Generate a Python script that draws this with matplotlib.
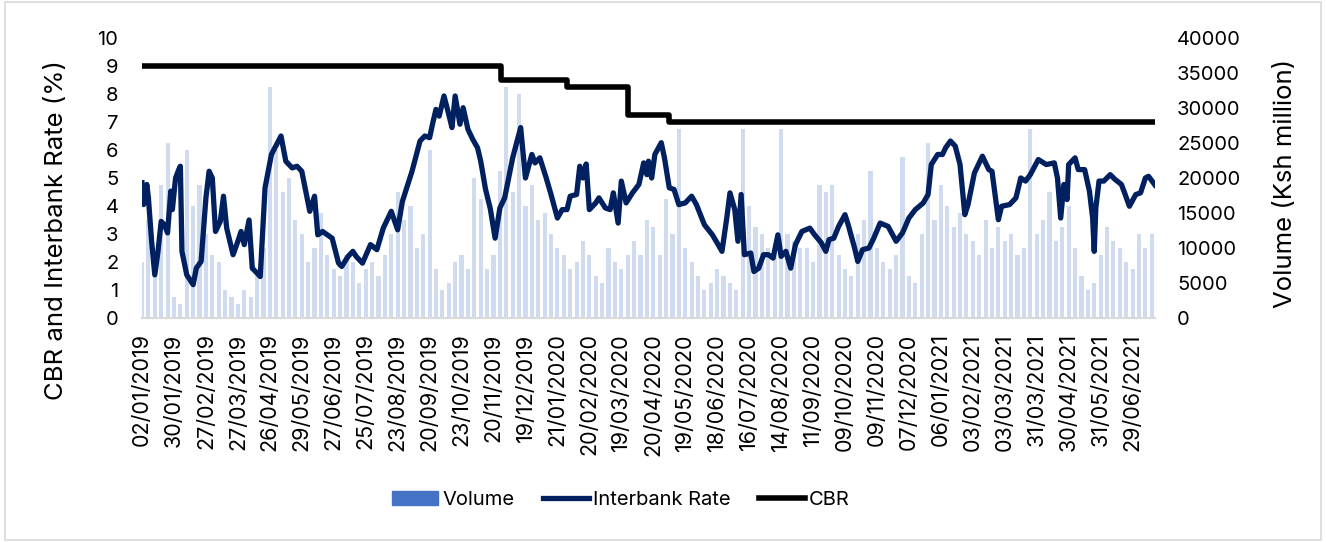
import matplotlib.pyplot as plt
import numpy as np
from matplotlib.patches import Patch, Rectangle
from matplotlib.lines import Line2D

plt.rcParams['font.family'] = ['Inter', 'DejaVu Sans']

# category labels, one every 20 trading days
date_labels = [
    "02/01/2019", "30/01/2019", "27/02/2019", "27/03/2019", "26/04/2019", "29/05/2019",
    "27/06/2019", "25/07/2019", "23/08/2019", "20/09/2019", "23/10/2019", "20/11/2019",
    "19/12/2019", "21/01/2020", "20/02/2020", "19/03/2020", "20/04/2020", "19/05/2020",
    "18/06/2020", "16/07/2020", "14/08/2020", "11/09/2020", "09/10/2020", "09/11/2020",
    "07/12/2020", "06/01/2021", "03/02/2021", "03/03/2021", "31/03/2021", "30/04/2021",
    "31/05/2021", "29/06/2021"
]
label_step = 20

# interbank rate (%) read at trading-day index
ib_day = [0, 1, 3, 4, 6, 8, 10, 12, 14, 16, 18, 19, 21, 23, 24, 25, 28, 32, 34, 37,
          40, 42, 44, 46, 49, 51, 53, 57, 60, 62, 64, 67, 69, 74, 77, 81, 87, 90, 94, 97,
          100, 105, 108, 110, 113, 119, 123, 125, 129, 132, 134, 138, 143, 147, 151, 156, 160, 163, 169, 174,
          177, 180, 182, 184, 186, 189, 192, 194, 196, 199, 201, 204, 207, 210, 212, 215, 218, 221, 224, 227,
          232, 237, 240, 244, 246, 249, 253, 256, 260, 263, 266, 268, 272, 274, 276, 278, 280, 284, 286, 290,
          293, 295, 298, 300, 303, 307, 311, 314, 316, 317, 319, 321, 325, 327, 330, 333, 336, 340, 344, 347,
          352, 357, 360, 363, 366, 368, 371, 373, 375, 377, 381, 383, 386, 389, 392, 395, 398, 400, 403, 406,
          409, 413, 418, 421, 425, 428, 430, 433, 436, 440, 442, 446, 448, 451, 455, 458, 462, 467, 472, 476,
          480, 484, 489, 492, 494, 498, 501, 503, 506, 509, 512, 515, 517, 521, 526, 530, 532, 536, 538, 543,
          547, 550, 553, 556, 561, 566, 571, 573, 575, 577, 579, 580, 584, 586, 590, 593, 595, 596, 597, 599,
          602, 606, 609, 613, 615, 618, 622, 625, 628, 630, 634]
ib_rate = [4.83, 4.05, 4.77, 4.29, 2.74, 1.54, 2.38, 3.45, 3.33, 3.04, 4.53, 3.87, 5.0, 5.3, 5.42, 2.38, 1.54, 1.19, 1.78, 2.02,
           4.29, 5.24, 5.0, 3.09, 3.45, 4.35, 3.21, 2.26, 2.74, 3.09, 2.62, 3.5, 1.78, 1.48, 4.65, 5.84, 6.5, 5.6, 5.36, 5.42,
           5.24, 3.81, 4.35, 2.97, 3.09, 2.85, 1.96, 1.84, 2.2, 2.38, 2.2, 1.96, 2.62, 2.44, 3.21, 3.81, 3.15, 4.17, 5.24, 6.32,
           6.5, 6.44, 6.97, 7.45, 7.21, 7.93, 7.27, 6.8, 7.93, 6.92, 7.51, 6.74, 6.38, 6.08, 5.6, 4.6, 3.9, 2.85, 3.93, 4.29,
           5.72, 6.8, 5.0, 5.84, 5.54, 5.72, 5.0, 4.41, 3.57, 3.87, 3.87, 4.35, 4.41, 5.42, 5.0, 5.5, 3.87, 4.11, 4.29, 3.93,
           3.87, 4.47, 3.39, 4.89, 4.11, 4.47, 4.77, 5.54, 5.12, 5.6, 5.0, 5.84, 6.26, 5.72, 4.65, 4.59, 4.05, 4.11, 4.35, 4.05,
           3.33, 2.97, 2.68, 2.38, 3.57, 4.47, 3.87, 2.74, 4.41, 2.26, 2.32, 1.66, 1.78, 2.26, 2.26, 2.14, 2.97, 2.2, 2.38, 1.78,
           2.62, 3.09, 3.21, 2.97, 2.7, 2.38, 2.8, 2.85, 3.27, 3.69, 3.33, 2.5, 2.02, 2.44, 2.5, 2.85, 3.39, 3.27, 2.74, 3.04,
           3.57, 3.87, 4.11, 4.41, 5.48, 5.84, 5.84, 6.08, 6.32, 6.14, 5.48, 3.69, 4.05, 5.18, 5.78, 5.3, 5.24, 3.51, 3.99, 4.05,
           4.29, 5.0, 4.89, 5.12, 5.66, 5.48, 5.54, 5.0, 3.57, 4.77, 4.23, 5.48, 5.72, 5.3, 5.3, 4.53, 3.57, 2.38, 3.93, 4.89,
           4.89, 5.12, 4.95, 4.77, 4.47, 3.99, 4.41, 4.47, 5.0, 5.06, 4.75]

# central bank rate (%) and the trading day each level starts
cbr_day = [0, 225, 266, 304, 330]
cbr_rate = [9.0, 8.5, 8.25, 7.25, 7.0]

# interbank volume (Ksh million), read every 4th trading day
vol_step = 4
volume = [8, 14, 7, 19, 25, 3, 2, 24, 16, 19, 12, 9, 8, 4, 3, 2, 4, 3, 6, 10,
          33, 24, 18, 20, 14, 12, 8, 10, 15, 9, 7, 6, 9, 8, 5, 7, 8, 6, 9, 12,
          18, 14, 16, 10, 12, 24, 7, 4, 5, 8, 9, 7, 20, 17,
          7, 9, 21, 33, 18, 32, 16, 19, 14, 15, 12, 10, 9, 7, 8, 11, 9, 6, 5, 10,
          8, 7, 9, 11, 9, 14, 13, 9, 17, 12, 27, 10, 8, 6, 4, 5, 7, 6, 5, 4,
          27, 16, 13, 12, 10, 9, 27, 12, 11, 10,
          10, 8, 19, 18, 19, 9, 7, 6, 12, 14, 21, 10, 8, 7, 9, 23, 6, 5, 12, 25,
          14, 19, 16, 13, 15, 12, 11, 9, 14, 10, 13, 11, 12, 9, 10, 27, 12, 14, 18, 11,
          13, 16, 10, 6, 4, 5, 9, 13, 11, 10, 8, 7, 12, 10, 12]
volume = [v * 1000 for v in volume]
vol_day = np.arange(len(volume)) * vol_step

last_day = ib_day[-1]

fig = plt.figure(figsize=(13.26, 5.42), dpi=100)
ax = fig.add_axes([0.1071, 0.4133, 0.7639, 0.5166])
ax2 = ax.twinx()

ax2.bar(vol_day, volume, width=2.6, color='#4472C4', alpha=0.25, linewidth=0)
ax.plot(ib_day, ib_rate, color='#002060', lw=3.8, solid_joinstyle='round', zorder=3)
ax.step(cbr_day + [last_day], cbr_rate + [cbr_rate[-1]], where='post',
        color='black', lw=4.0, solid_capstyle='round', zorder=4)

ax.set_zorder(ax2.get_zorder() + 1)
ax.patch.set_visible(False)

ax.set_xlim(0, last_day)
ax.set_ylim(0, 10)
ax2.set_ylim(0, 40000)
ax.set_yticks(np.arange(0, 11, 1))
ax2.set_yticks(np.arange(0, 40001, 5000))

ax.set_xticks(np.arange(len(date_labels)) * label_step)
ax.set_xticklabels(date_labels, rotation=90, fontsize=15.5, color='#000000')
ax.tick_params(axis='x', length=0, pad=11)
ax.tick_params(axis='y', length=0, pad=17, labelsize=14.5)
ax2.tick_params(axis='y', length=0, pad=16, labelsize=14.5)

for a in (ax, ax2):
    for s in ('top', 'left', 'right'):
        a.spines[s].set_visible(False)
    a.spines['bottom'].set_color('#d9d9d9')
    a.spines['bottom'].set_linewidth(1.5)

ax.set_ylabel('CBR and Interbank Rate (%)', fontsize=18.5)
ax.yaxis.set_label_coords(-0.073, 0.314)
ax2.set_ylabel('Volume (Ksh million)', fontsize=18.5)
ax2.yaxis.set_label_coords(1.118, 0.482)

handles = [Patch(color='#4472C4'),
           Line2D([], [], color='#002060', lw=3.8),
           Line2D([], [], color='black', lw=4.0)]
fig.legend(handles, ['Volume', 'Interbank Rate', 'CBR'], loc='center',
           bbox_to_anchor=(621 / 1326, 0.077), ncol=3, frameon=False,
           fontsize=14.5, handlelength=2.3, handletextpad=0.2, columnspacing=1.4)

fig.patches.append(Rectangle((0.004, 0.004), 0.992, 0.992, transform=fig.transFigure,
                             fill=False, edgecolor='#d9d9d9', lw=1.2))

fig.savefig('out.png', dpi=100)
